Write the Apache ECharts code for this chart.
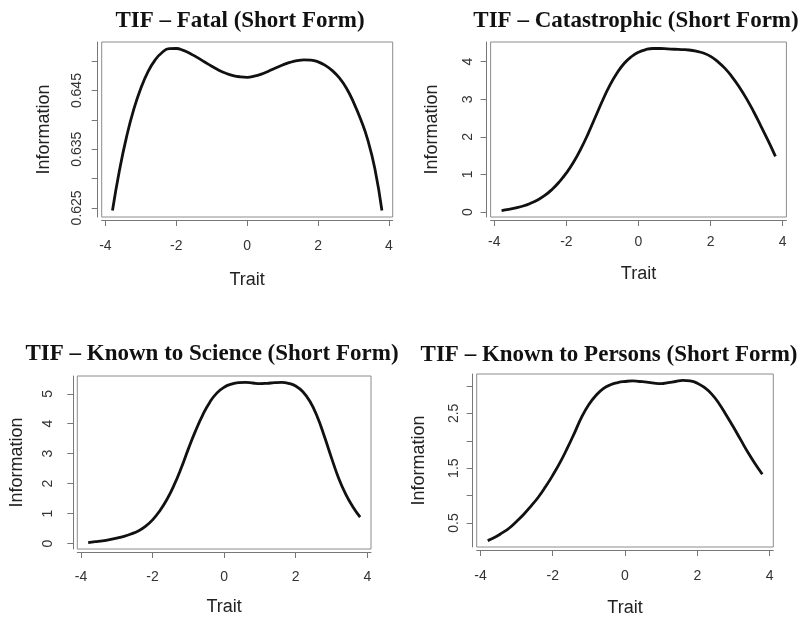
<!DOCTYPE html>
<html>
<head>
<meta charset="utf-8">
<title>TIF</title>
<script src="https://cdn.jsdelivr.net/npm/echarts@6/dist/echarts.min.js"></script>
<style>
    html, body { margin: 0; padding: 0; background: #fff; }
    #chart { width: 801px; height: 618px; }
</style>
</head>
<body>
<div id="chart"></div>
<script>
// 横轴 Trait 取值
var trait = [-3.8, -3.6, -3.4, -3.2, -3.0, -2.8, -2.6, -2.4, -2.2, -2.0,
    -1.8, -1.6, -1.4, -1.2, -1.0, -0.8, -0.6, -0.4, -0.2, 0.0,
    0.2, 0.4, 0.6, 0.8, 1.0, 1.2, 1.4, 1.6, 1.8, 2.0,
    2.2, 2.4, 2.6, 2.8, 3.0, 3.2, 3.4, 3.6, 3.8];

// 各图的 Information 值
var infoFatal = [0.62455, 0.63150, 0.63720, 0.64180, 0.64540, 0.64820, 0.65020, 0.65150, 0.65215, 0.65218,
    0.65185, 0.65130, 0.65062, 0.64988, 0.64915, 0.64848, 0.64795, 0.64757, 0.64735, 0.64727,
    0.64745, 0.64780, 0.64830, 0.64885, 0.64937, 0.64980, 0.65010, 0.65025, 0.65020, 0.64990,
    0.64930, 0.64840, 0.64715, 0.64540, 0.64300, 0.64010, 0.63660, 0.63170, 0.62455];

var infoCatastrophic = [0.04, 0.07, 0.11, 0.16, 0.23, 0.32, 0.44, 0.60, 0.80, 1.04,
    1.33, 1.68, 2.08, 2.52, 2.96, 3.36, 3.69, 3.95, 4.13, 4.25,
    4.32, 4.35, 4.35, 4.34, 4.33, 4.32, 4.31, 4.28, 4.23, 4.14,
    4.00, 3.82, 3.59, 3.32, 3.01, 2.66, 2.28, 1.89, 1.48];

var infoScience = [0.03, 0.06, 0.09, 0.13, 0.18, 0.24, 0.32, 0.42, 0.57, 0.79,
    1.09, 1.47, 1.95, 2.52, 3.16, 3.76, 4.29, 4.72, 5.03, 5.22,
    5.32, 5.37, 5.38, 5.36, 5.34, 5.35, 5.37, 5.38, 5.35, 5.26,
    5.07, 4.74, 4.24, 3.58, 2.86, 2.18, 1.64, 1.22, 0.88];

var infoPersons = [0.18, 0.24, 0.32, 0.41, 0.53, 0.66, 0.81, 0.97, 1.16, 1.37,
    1.60, 1.86, 2.14, 2.43, 2.66, 2.83, 2.95, 3.02, 3.06, 3.08,
    3.09, 3.08, 3.07, 3.05, 3.04, 3.06, 3.08, 3.10, 3.09, 3.05,
    2.97, 2.85, 2.68, 2.47, 2.25, 2.02, 1.79, 1.58, 1.39];

// 刻度
var xTicks = [-4, -2, 0, 2, 4];
var yTicksFatal = [0.625, 0.630, 0.635, 0.640, 0.645, 0.650];
var yLabelsFatal = [0.625, 0.635, 0.645];
var yTicksCatastrophic = [0, 1, 2, 3, 4];
var yTicksScience = [0, 1, 2, 3, 4, 5];
var yTicksPersons = [0.5, 1.0, 1.5, 2.0, 2.5, 3.0];
var yLabelsPersons = [0.5, 1.5, 2.5];

var titles = ['TIF \u2013 Fatal (Short Form)', 'TIF \u2013 Catastrophic (Short Form)',
    'TIF \u2013 Known to Science (Short Form)', 'TIF \u2013 Known to Persons (Short Form)'];


function r_range(arr) {
    /*R 默认坐标范围：数据范围两边各加 4%*/
    var lo = Math.min.apply(null, arr);
    var hi = Math.max.apply(null, arr);
    var d = (hi - lo) * 0.04;
    return [lo - d, hi + d];
}


function make_panel(i, values, yTicks, yLabels, digits, box, gaps) {
    /*生成一个子图的 grid / 坐标轴 / 曲线*/
    var xr = r_range(trait);
    var yr = r_range(values);
    var pts = [];
    for (var j = 0; j < trait.length; j++) {
        pts.push([trait[j], values[j]]);
    }

    var axisFont = 'Liberation Sans, Arial, sans-serif';

    return {
        title: {
            text: titles[i],
            left: box.titleX,
            top: box.titleY,
            textAlign: 'center',
            textStyle: {
                fontFamily: 'Liberation Serif, Times New Roman, serif',
                fontWeight: 'bold',
                fontSize: 23,
                color: '#111'
            }
        },
        grid: {
            left: box.left,
            top: box.top,
            width: box.width,
            height: box.height,
            show: true,
            borderColor: '#8c8c8c',
            borderWidth: 1
        },
        xAxis: {
            type: 'value',
            gridIndex: i,
            min: xr[0],
            max: xr[1],
            offset: 3,
            splitLine: {show: false},
            axisLine: {show: true, onZero: false, lineStyle: {color: '#777'}},
            axisTick: {show: true, length: 6, customValues: xTicks, lineStyle: {color: '#777'}},
            axisLabel: {
                customValues: xTicks,
                margin: gaps.xLabel,
                fontSize: 14,
                fontFamily: axisFont,
                color: '#333'
            },
            name: 'Trait',
            nameLocation: 'middle',
            nameGap: gaps.xName,
            nameTextStyle: {fontSize: 18, fontFamily: axisFont, color: '#222'}
        },
        yAxis: {
            type: 'value',
            gridIndex: i,
            min: yr[0],
            max: yr[1],
            offset: 4,
            splitLine: {show: false},
            axisLine: {show: true, onZero: false, lineStyle: {color: '#777'}},
            axisTick: {show: true, length: 6, customValues: yTicks, lineStyle: {color: '#777'}},
            axisLabel: {
                customValues: yLabels,
                rotate: 90,
                margin: gaps.yLabel,
                fontSize: 14,
                fontFamily: axisFont,
                color: '#333',
                formatter: function (v) {
                    return v.toFixed(digits);
                }
            },
            name: 'Information',
            nameLocation: 'middle',
            nameGap: gaps.yName,
            nameTextStyle: {fontSize: 18, fontFamily: axisFont, color: '#222'}
        },
        series: {
            type: 'line',
            xAxisIndex: i,
            yAxisIndex: i,
            data: pts,
            smooth: 0.5,
            showSymbol: false,
            lineStyle: {color: '#111', width: 2.8}
        }
    };
}


var panels = [
    make_panel(0, infoFatal, yTicksFatal, yLabelsFatal, 3,
        {left: 101.7, top: 42, width: 291, height: 175, titleX: 235, titleY: 5},
        {xLabel: 19, xName: 51, yLabel: 14, yName: 45}),
    make_panel(1, infoCatastrophic, yTicksCatastrophic, yTicksCatastrophic, 0,
        {left: 490.6, top: 42, width: 295.8, height: 175, titleX: 631, titleY: 5},
        {xLabel: 15, xName: 45, yLabel: 11, yName: 46}),
    make_panel(2, infoScience, yTicksScience, yTicksScience, 0,
        {left: 77.3, top: 376, width: 293.7, height: 173, titleX: 207, titleY: 338},
        {xLabel: 18, xName: 46, yLabel: 18, yName: 47}),
    make_panel(3, infoPersons, yTicksPersons, yLabelsPersons, 1,
        {left: 476.7, top: 374, width: 296.6, height: 173.7, titleX: 604, titleY: 339},
        {xLabel: 19, xName: 49, yLabel: 12, yName: 45})
];

var option = {
    animation: false,
    backgroundColor: '#fff',
    title: [], grid: [], xAxis: [], yAxis: [], series: []
};
for (var k = 0; k < panels.length; k++) {
    option.title.push(panels[k].title);
    option.grid.push(panels[k].grid);
    option.xAxis.push(panels[k].xAxis);
    option.yAxis.push(panels[k].yAxis);
    option.series.push(panels[k].series);
}

var myChart = echarts.init(document.getElementById('chart'));
myChart.setOption(option);
</script>
</body>
</html>
